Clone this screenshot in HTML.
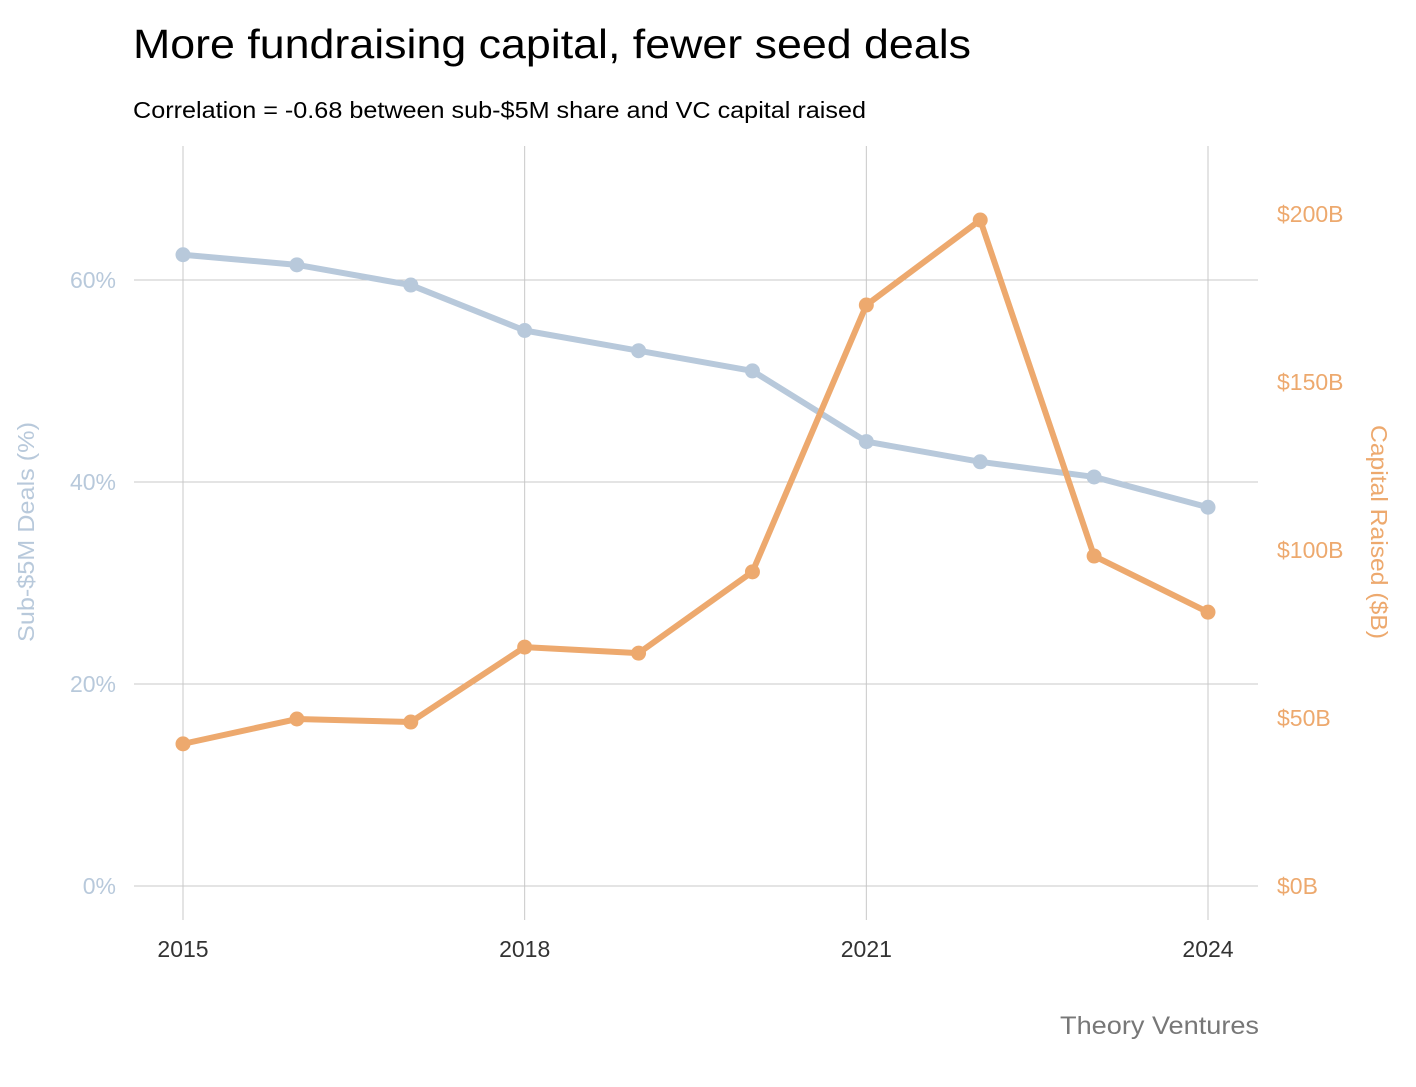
<!DOCTYPE html>
<html><head><meta charset="utf-8"><style>
body{margin:0;background:#fff;font-family:"Liberation Sans",sans-serif;}
</style></head><body>
<svg width="1416" height="1082" xmlns="http://www.w3.org/2000/svg">
<text x="133" y="58" font-size="41" fill="#000" textLength="838" lengthAdjust="spacingAndGlyphs">More fundraising capital, fewer seed deals</text>
<text x="133" y="118" font-size="23" fill="#000" textLength="733" lengthAdjust="spacingAndGlyphs">Correlation = -0.68 between sub-$5M share and VC capital raised</text>
<g id="grid"></g>
<g id="axes"></g>
<g id="marks"></g>
<text x="34" y="532" font-size="23" fill="#b8c9db" text-anchor="middle" textLength="220" lengthAdjust="spacingAndGlyphs" transform="rotate(-90 34 532)">Sub-$5M Deals (%)</text>
<text x="1371" y="532" font-size="23" fill="#eda96e" text-anchor="middle" textLength="214" lengthAdjust="spacingAndGlyphs" transform="rotate(90 1371 532)">Capital Raised ($B)</text>
<text x="1259" y="1034" font-size="25" fill="#777" text-anchor="end" textLength="199" lengthAdjust="spacingAndGlyphs">Theory Ventures</text>
</svg>
<script>
const years=[2015,2016,2017,2018,2019,2020,2021,2022,2023,2024];
const shareSub5M=[62.5,61.5,59.5,55,53,51,44,42,40.5,37.5];
const capitalRaised=[42.3,49.7,48.8,71.1,69.3,93.5,172.9,198.2,98.2,81.5];
const leftTicks=[0,20,40,60];
const rightTicks=[0,50,100,150,200];
const xTicks=[2015,2018,2021,2024];
const NS="http://www.w3.org/2000/svg";
const x=v=>183+(v-2015)*(1208-183)/9;
const yL=v=>886-v*10.1;
const yR=v=>886-v*3.36;
function mk(tag,attrs,parent,text){const e=document.createElementNS(NS,tag);for(const k in attrs)e.setAttribute(k,attrs[k]);if(text!=null)e.textContent=text;document.getElementById(parent).appendChild(e);return e;}
leftTicks.forEach(t=>{
 let l=mk('line',{x1:134,x2:1258,y1:yL(t),y2:yL(t),stroke:'#c8c8c8','stroke-width':1},'grid');
 
 
 let tx=mk('text',{x:116,y:yL(t)+8,'font-size':23,fill:'#b8c9db','text-anchor':'end'},'axes',t+'%');
 
 
});
xTicks.forEach(t=>{
 let l=mk('line',{x1:x(t),x2:x(t),y1:146,y2:920,stroke:'#c8c8c8','stroke-width':1},'grid');
 
 
 let tx=mk('text',{x:x(t),y:957,'font-size':23,fill:'#333','text-anchor':'middle'},'axes',t);
 
 
});
rightTicks.forEach(t=>{
 let tx=mk('text',{x:1277,y:yR(t)+8,'font-size':23,fill:'#eda96e'},'axes','$'+t+'B');
 
 
});
function series(vals,yf,color,name){
 let p=mk('polyline',{points:vals.map((v,i)=>x(years[i])+','+yf(v)).join(' '),fill:'none',stroke:color,'stroke-width':6,'stroke-linejoin':'round','stroke-linecap':'round'},'marks');
 
 
 vals.forEach((v,i)=>{
  let c=mk('circle',{cx:x(years[i]),cy:yf(v),r:7.5,fill:color},'marks');
  
  
 });
}
series(shareSub5M,yL,'#b8c9db','sub5m-share');
series(capitalRaised,yR,'#eda96e','capital-raised');
</script>
</body></html>
